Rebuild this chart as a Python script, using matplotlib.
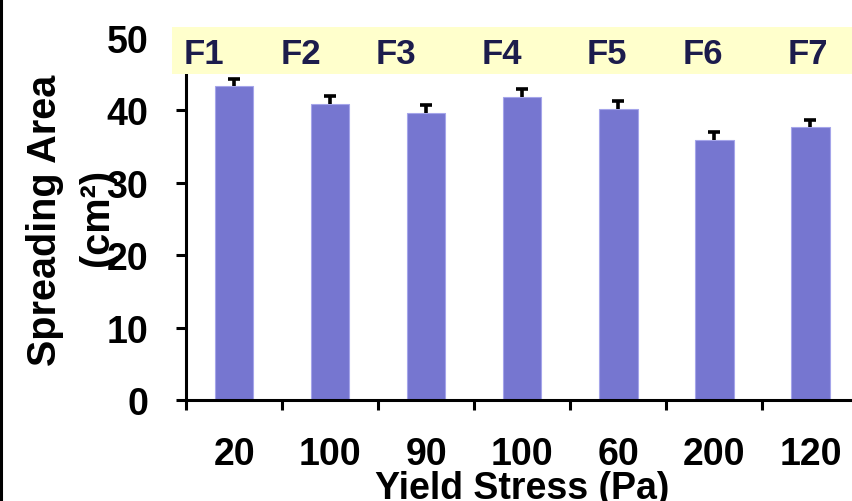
import matplotlib
matplotlib.use("Agg")
import matplotlib.pyplot as plt
import matplotlib.transforms as mtransforms
from matplotlib.patches import Rectangle
from matplotlib.lines import Line2D
import numpy as np

# ---- data ----
formulations = ["F1", "F2", "F3", "F4", "F5", "F6", "F7"]
yield_stress_labels = ["20", "100", "90", "100", "60", "200", "120"]
spreading_area = [43.3, 40.9, 39.6, 41.8, 40.2, 35.9, 37.7]
spreading_err = [1.1, 1.1, 1.1, 1.1, 1.1, 1.1, 1.0]
y_ticks = [0, 10, 20, 30, 40, 50]

plt.rcParams['font.family'] = ['Liberation Sans', 'DejaVu Sans']
plt.rcParams['font.weight'] = 'bold'

fig = plt.figure(figsize=(8.53, 5.02), dpi=100)
ax = fig.add_axes([0.2181, 0.2012, 0.7883, 0.75])

x = np.arange(len(formulations))
ax.bar(x, spreading_area, width=0.4, color='#7676d0', edgecolor='#a5a5ea',
       linewidth=0.8, zorder=2)
eb = ax.errorbar(x, spreading_area, yerr=[np.zeros(len(x)), spreading_err], fmt='none',
                 ecolor='black', elinewidth=2.6, capsize=4.5, capthick=2.6, zorder=3)
# only the upper cap is drawn in the reference
eb[1][0].set_visible(False)

ax.set_xlim(-0.5, len(x) - 0.5)
ax.set_ylim(0, 52)

for s in ['top', 'right']:
    ax.spines[s].set_visible(False)
ax.spines['left'].set_linewidth(2.2)
ax.spines['bottom'].set_linewidth(2.2)
ax.spines['left'].set_bounds(0, 45.2)

ax.set_yticks(y_ticks)
ax.set_yticklabels([str(t) for t in y_ticks], fontsize=27, fontweight='bold')
ax.tick_params(axis='y', direction='out', length=7.2, width=2.2, pad=20)

ax.set_xticks(np.arange(len(x) + 1) - 0.5)
ax.set_xticklabels([])
ax.set_xticks(x, minor=True)
ax.set_xticklabels(yield_stress_labels, minor=True, fontsize=27, fontweight='bold')
ax.tick_params(axis='x', which='major', direction='out', length=7.2, width=2.2)
ax.tick_params(axis='x', which='minor', length=0, pad=26)

# yellow band with formulation labels
band = Rectangle((0.2016, 0.8506), 1 - 0.2016, 0.9436 - 0.8506, transform=fig.transFigure,
                 facecolor='#ffffcc', edgecolor='none', zorder=5)
fig.add_artist(band)
label_offsets = [-0.315, -0.301, -0.311, -0.207, -0.121, -0.120, -0.027]
trans = mtransforms.blended_transform_factory(ax.transData, fig.transFigure)
for i, name in enumerate(formulations):
    fig.text(x[i] + label_offsets[i], 0.8914, name, transform=trans, ha='center',
             va='center', fontsize=25, fontweight='bold', color='#1c1c4c', zorder=6)

# axis labels
fig.text(0.0528, 0.5618, "Spreading Area", rotation=90, ha='center', va='center',
         fontsize=28.5, fontweight='bold')
fig.text(0.1137, 0.566, "(cm²)", rotation=90, ha='center', va='center',
         fontsize=28.5, fontweight='bold')
fig.text(0.612, 0.006, "Yield Stress (Pa)", ha='center', va='baseline',
         fontsize=27, fontweight='bold')

# left border line
fig.add_artist(Line2D([0.0015, 0.0015], [0, 1], transform=fig.transFigure,
                      color='black', linewidth=2.2))

fig.savefig("out.png", dpi=100)
